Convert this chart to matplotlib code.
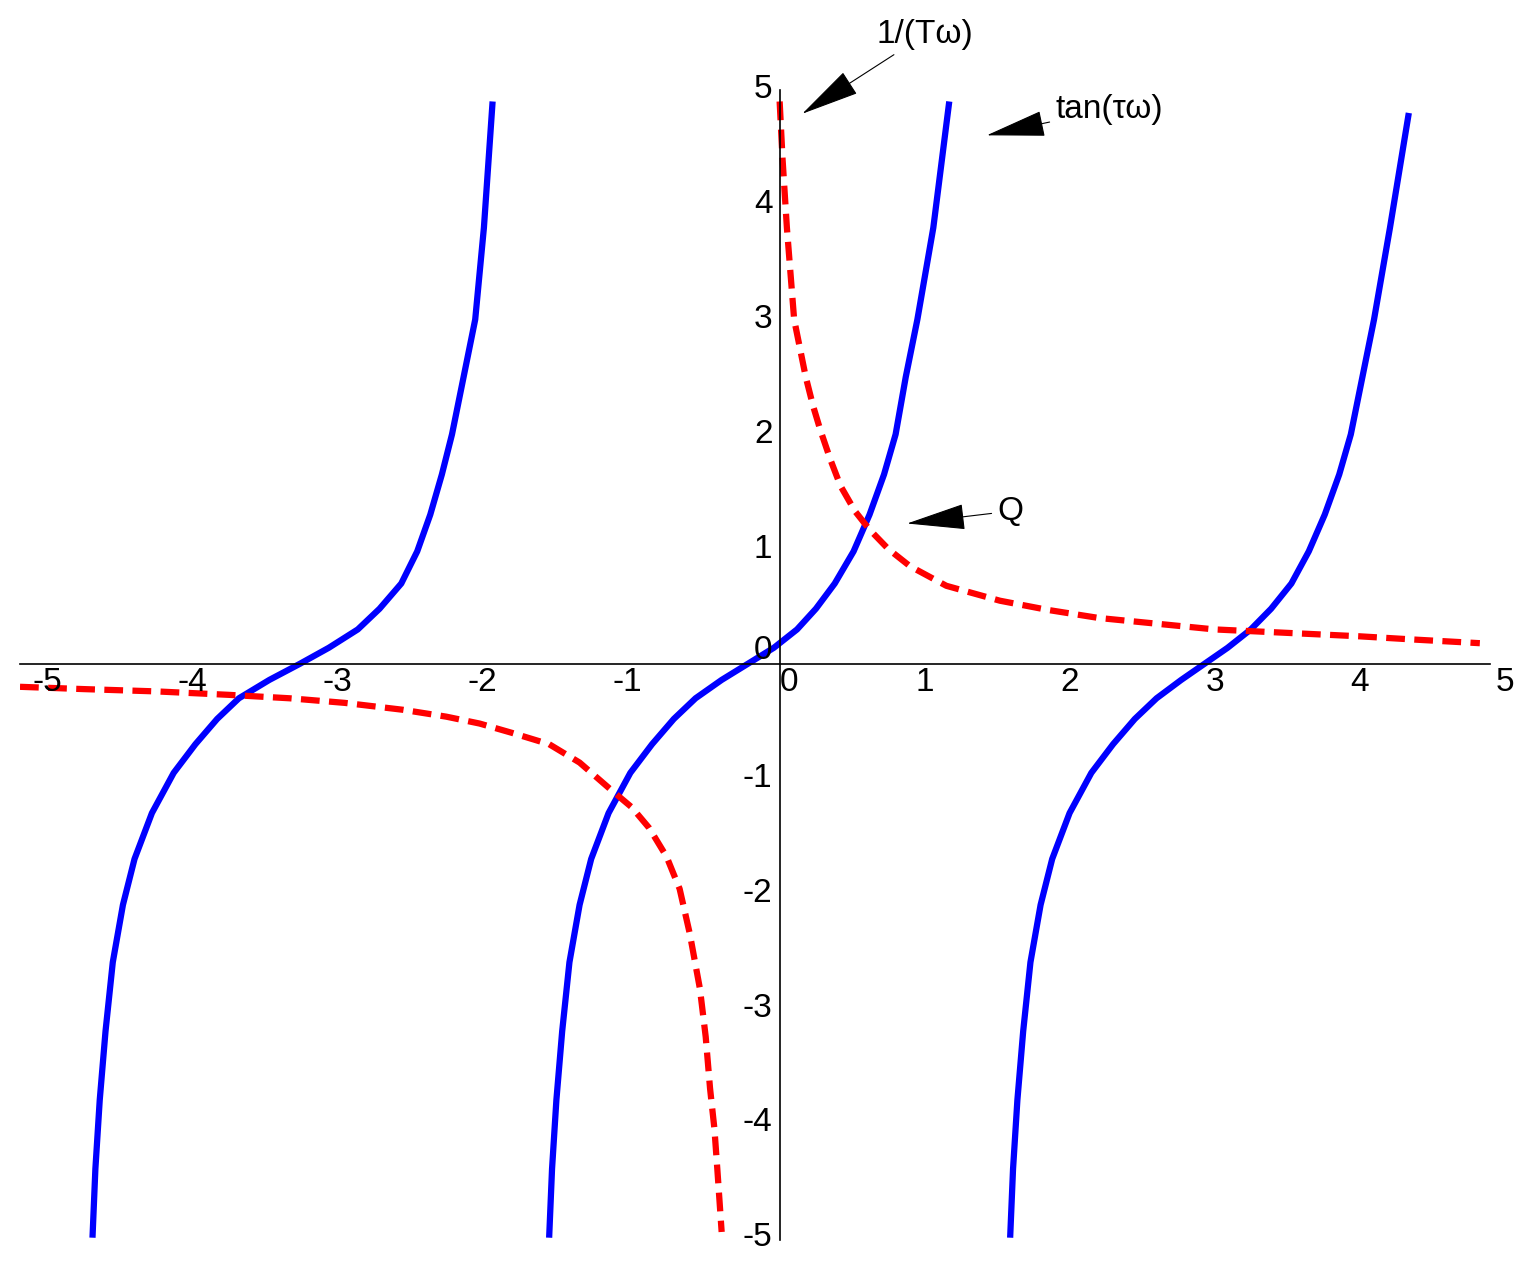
import matplotlib
matplotlib.use("Agg")
import matplotlib.pyplot as plt

# tan branches (offsets are per-branch readings)
b1_x = [-4.74, -4.72, -4.69, -4.65, -4.60, -4.53, -4.45, -4.33, -4.18, -4.03, -3.88, -3.73, -3.52, -3.31, -3.11, -2.91, -2.76, -2.61, -2.50, -2.41, -2.33, -2.26, -2.18, -2.10, -2.04, -1.98]
b1_y = [-5.0, -4.4, -3.8, -3.2, -2.6, -2.1, -1.7, -1.3, -0.95, -0.7, -0.48, -0.3, -0.14, 0.0, 0.14, 0.3, 0.48, 0.7, 0.98, 1.3, 1.65, 2.0, 2.5, 3.0, 3.8, 4.9]
b2_x = [v + 3.15 for v in []]  # placeholder not used
b2_x = [-1.59, -1.57, -1.54, -1.50, -1.45, -1.38, -1.30, -1.18, -1.03, -0.88, -0.73, -0.58, -0.40, -0.22, -0.04, 0.12, 0.25, 0.38, 0.51, 0.62, 0.72, 0.80, 0.87, 0.95, 1.06, 1.17]
b2_y = b1_y
b3_x = [1.59, 1.61, 1.64, 1.68, 1.73, 1.80, 1.88, 2.00, 2.15, 2.30, 2.45, 2.60, 2.77, 2.93, 3.09, 3.25, 3.39, 3.53, 3.65, 3.76, 3.86, 3.94, 4.02, 4.10, 4.21, 4.34]
b3_y = [-5.0, -4.4, -3.8, -3.2, -2.6, -2.1, -1.7, -1.3, -0.95, -0.7, -0.48, -0.3, -0.14, 0.0, 0.14, 0.3, 0.48, 0.7, 0.98, 1.3, 1.65, 2.0, 2.5, 3.0, 3.8, 4.8]
# 1/(Tω) branches
r1_x = [0.0, 0.02, 0.05, 0.1, 0.14, 0.18, 0.23, 0.28, 0.35, 0.42, 0.52, 0.62, 0.75, 0.9, 1.15, 1.52, 1.85, 2.2, 2.6, 3.0, 3.5, 4.0, 4.4, 4.83]
r1_y = [4.9, 4.4, 3.8, 3.0, 2.75, 2.5, 2.25, 2.04, 1.78, 1.55, 1.33, 1.17, 1.0, 0.85, 0.68, 0.55, 0.47, 0.40, 0.35, 0.30, 0.27, 0.24, 0.21, 0.18]
r2_x = [-5.24, -4.8, -4.3, -3.8, -3.38, -3.0, -2.6, -2.3, -2.07, -1.85, -1.59, -1.38, -1.17, -1.02, -0.9, -0.78, -0.69, -0.62, -0.55, -0.51, -0.48, -0.45, -0.43, -0.40]
r2_y = [-0.2, -0.22, -0.24, -0.27, -0.3, -0.34, -0.4, -0.46, -0.52, -0.6, -0.7, -0.86, -1.09, -1.25, -1.43, -1.68, -1.96, -2.35, -2.83, -3.25, -3.7, -4.05, -4.4, -4.95]

fig = plt.figure(figsize=(15.38, 12.83), dpi=100)
ax = fig.add_axes([20/1538, 1-1240/1283, 1470/1538, 1150/1283])
ax.set_xlim(-5.24, 4.9)
ax.set_ylim(-5.02, 5.0)
for s in ["top", "right"]:
    ax.spines[s].set_visible(False)
ax.spines["left"].set_position(("data", 0))
ax.spines["bottom"].set_position(("data", 0))
for s in ["left", "bottom"]:
    ax.spines[s].set_linewidth(1.2)

for bx, by in [(b1_x, b1_y), (b2_x, b2_y), (b3_x, b3_y)]:
    ax.plot(bx, by, color="#0000ff", lw=4.5, solid_capstyle="butt")
for rx, ry in [(r1_x, r1_y), (r2_x, r2_y)]:
    ax.plot(rx, ry, color="#ff0000", lw=4.5, ls=(0, (3, 1.5)))

xt = [-5, -4, -3, -2, -1, 0, 1, 2, 3, 4, 5]
yt = [-5, -4, -3, -2, -1, 0, 1, 2, 3, 4, 5]
ax.set_xticks([])
ax.set_yticks([])
fs = 24
for v in xt:
    ax.text(v - (0.05 if v < 0 else 0), -0.03, str(v), ha="center" if v != 0 else "left", va="top",
            fontsize=fs, family="Liberation Sans", clip_on=False)
for v in yt:
    if v == 0:
        continue
    ax.text(-0.05, v, str(v), ha="right", va="center", fontsize=fs,
            family="Liberation Sans", clip_on=False)
ax.text(-0.05, 0.12, "0", ha="right", va="center", fontsize=fs, family="Liberation Sans")

ap = dict(arrowstyle="-|>,head_length=1.6,head_width=0.35", color="black", lw=0.8, fc="black")
ax.annotate("1/(Tω)", xy=(0.14, 4.78), xytext=(1.0, 5.48), fontsize=fs, family="Liberation Sans",
            ha="center", va="center", arrowprops=ap, annotation_clip=False)
ax.annotate("tan(τω)", xy=(1.41, 4.6), xytext=(1.9, 4.83), fontsize=fs, family="Liberation Sans",
            ha="left", va="center", arrowprops=ap, annotation_clip=False)
ax.annotate("Q", xy=(0.86, 1.22), xytext=(1.5, 1.33), fontsize=fs, family="Liberation Sans",
            ha="left", va="center", arrowprops=ap, annotation_clip=False)

fig.savefig("out.png", dpi=100)
